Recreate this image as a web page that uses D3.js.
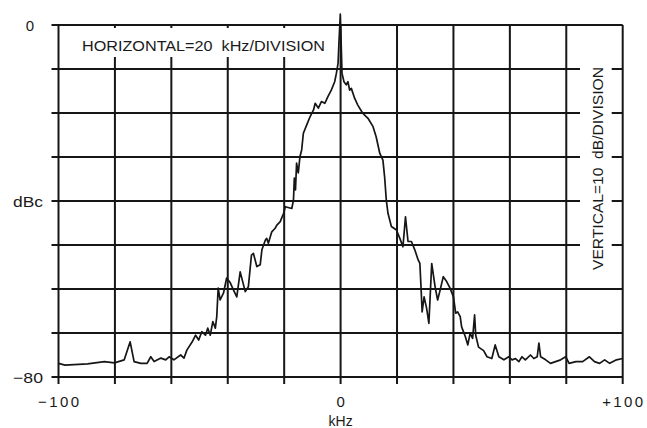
<!DOCTYPE html>
<html>
<head>
<meta charset="utf-8">
<script src="https://cdn.jsdelivr.net/npm/d3@7"></script>
<style>
  html, body { margin:0; padding:0; background:#fff; }
  svg { display:block; }
  text { font-family:"Liberation Sans", Arial, sans-serif; fill:#1a1a1a; white-space:pre; }
</style>
</head>
<body>
<div id="chart"></div>
<script>
// spectrum trace: frequency offset (kHz) and level (dBc)
const freqKHz = [
  -100,-97.7,-89.7,-83.7,-80.2,-76.7,-74.6,-73.2,-70.8,-68.6,
  -67.3,-66.1,-63.7,-62.0,-60.8,-59.1,-56.7,-55.5,-54.5,-52.6,
  -51.4,-50.3,-49.2,-47.9,-47.1,-46.2,-45.3,-44.4,-43.9,-43.4,
  -42.7,-41.5,-40.4,-39.1,-38.0,-36.8,-35.6,-33.8,-32.7,-31.6,
  -30.9,-29.7,-28.5,-27.9,-26.7,-26.2,-25.6,-24.4,-23.2,-22.6,
  -21.4,-20.9,-20.2,-19.6,-17.3,-16.7,-16.4,-16.0,-15.6,-15.0,
  -14.4,-13.8,-13.2,-12.0,-10.8,-9.6,-9.0,-7.9,-6.8,-5.6,
  -4.5,-3.3,-2.1,-1.5,-0.9,-0.6,-0.1,0.2,0.5,1.2,
  2.0,2.6,3.2,3.8,5.0,6.1,7.9,9.7,11.5,12.6,
  13.9,15.0,15.6,16.2,16.8,18.0,19.8,21.0,22.1,23.0,
  23.9,25.1,26.3,27.5,28.1,28.5,28.9,29.6,30.5,31.3,
  32.3,33.5,34.4,35.3,36.4,37.6,38.8,40.0,40.8,41.5,
  42.4,42.9,44.2,45.1,45.9,46.8,47.5,47.9,48.9,50.7,
  51.9,53.6,54.8,56.1,57.9,59.6,60.8,62.0,63.2,64.3,
  65.5,67.3,68.5,69.7,70.3,70.9,72.7,74.4,76.2,78.0,
  79.8,81.0,83.4,85.8,88.2,90.0,91.8,93.6,95.4,97.8,
  100
];
const levelDbc = [
  -76.9,-77.3,-77.0,-76.5,-76.8,-76.1,-72.0,-76.5,-76.9,-76.9,
  -75.4,-76.5,-75.7,-76.1,-75.4,-76.1,-75.0,-75.7,-73.9,-72.0,
  -70.5,-71.6,-69.7,-70.5,-68.9,-70.5,-67.4,-68.9,-66.3,-59.8,
  -62.5,-60.9,-57.5,-58.6,-60.2,-61.8,-56.1,-60.6,-59.5,-52.3,
  -51.9,-54.9,-54.5,-51.1,-48.9,-48.5,-49.6,-47.0,-46.2,-45.5,
  -44.7,-43.9,-42.8,-41.3,-41.7,-39.8,-34.8,-37.5,-31.4,-33.6,
  -29.9,-28.4,-24.6,-22.7,-20.8,-19.3,-17.8,-18.9,-17.4,-17.8,
  -16.3,-14.8,-12.9,-11.0,-8.7,-4.2,2.5,-4.2,-11.0,-12.9,
  -13.6,-12.9,-14.8,-14.4,-16.7,-18.2,-20.1,-21.2,-23.1,-25.4,
  -29.2,-30.7,-34.5,-39.8,-42.8,-45.8,-46.6,-48.5,-50.4,-43.6,
  -49.2,-49.2,-51.1,-53.4,-54.2,-59.5,-65.2,-61.8,-64.4,-67.8,
  -54.2,-59.5,-62.5,-60.2,-57.2,-58.3,-59.8,-61.8,-65.5,-65.2,
  -66.3,-68.6,-70.8,-72.7,-70.1,-71.2,-65.9,-70.5,-73.2,-74.0,
  -75.4,-75.8,-72.7,-75.4,-76.1,-75.4,-76.1,-75.8,-76.5,-75.4,
  -76.1,-75.0,-75.8,-75.4,-72.3,-75.4,-76.1,-76.9,-76.5,-76.1,
  -75.4,-76.9,-76.5,-76.5,-75.4,-76.5,-76.9,-76.1,-76.9,-76.1,
  -75.8
];

const xTicks = [-100,-80,-60,-40,-20,0,20,40,60,80,100];
const yTicks = [0,-10,-20,-30,-40,-50,-60,-70,-80];
const xTickLabels = [ {v:-100, t:"\u2212100"}, {v:0, t:"0"}, {v:100, t:"+100"} ];
const yTickLabels = [ {v:0, t:"0"}, {v:-40, t:"dBc"}, {v:-80, t:"\u221280"} ];
const xTitle = "kHz";
const topNote  = "HORIZONTAL=20  kHz/DIVISION";
const sideNote = "VERTICAL=10  dB/DIVISION";

const W = 647, H = 428;
const INK = "#161616";

const svg = d3.select("#chart").append("svg")
  .attr("width", W).attr("height", H);

const x = d3.scaleLinear().domain([-100, 100]).range([58.5, 622.7]);
const y = d3.scaleLinear().domain([-80, 0]).range([377, 25]);

const plotL = x(-100), plotR = x(100), plotT = y(0), plotB = y(-80);

// gaps in the grid where the two notes sit
const noteGapY = [28, 57];          // vertical lines broken behind top note
const sideGapX = [580, 611.7];      // horizontal lines broken behind side note

const grid = svg.append("g")
  .attr("stroke", INK)
  .attr("stroke-width", 2)
  .attr("fill", "none");

// horizontal grid lines, sticking out a bit past the left edge
yTicks.forEach(v => {
  const yy = y(v);
  const broken = v <= -10 && v >= -50;
  if (broken) {
    grid.append("line").attr("x1", plotL - 7).attr("x2", sideGapX[0]).attr("y1", yy).attr("y2", yy);
    grid.append("line").attr("x1", sideGapX[1]).attr("x2", plotR).attr("y1", yy).attr("y2", yy);
  } else {
    grid.append("line").attr("x1", plotL - 7).attr("x2", plotR).attr("y1", yy).attr("y2", yy);
  }
});

// vertical grid lines, with a tick below the bottom edge
xTicks.forEach(v => {
  const xx = x(v);
  const broken = v > -100 && v < 0;
  if (broken) {
    grid.append("line").attr("x1", xx).attr("x2", xx).attr("y1", plotT).attr("y2", noteGapY[0]);
    grid.append("line").attr("x1", xx).attr("x2", xx).attr("y1", noteGapY[1]).attr("y2", plotB + 7);
  } else {
    grid.append("line").attr("x1", xx).attr("x2", xx).attr("y1", plotT).attr("y2", plotB + 7);
  }
});

// trace
const pts = freqKHz.map((f, i) => [f, levelDbc[i]]);
const line = d3.line().x(d => x(d[0])).y(d => y(d[1]));
svg.append("path")
  .datum(pts)
  .attr("d", line)
  .attr("fill", "none")
  .attr("stroke", INK)
  .attr("stroke-width", 1.7)
  .attr("stroke-linejoin", "round");

// axis labels
svg.selectAll("text.xl")
  .data(xTickLabels)
  .enter().append("text")
  .attr("class", "xl")
  .attr("x", d => x(d.v))
  .attr("y", 407)
  .attr("text-anchor", "middle")
  .style("font-size", "15px")
  .attr("textLength", d => d.t.length > 1 ? 41 : null)
  .text(d => d.t);

svg.selectAll("text.yl")
  .data(yTickLabels)
  .enter().append("text")
  .attr("class", "yl")
  .attr("x", d => d.v === 0 ? 34 : 43)
  .attr("y", d => y(d.v) + 6)
  .attr("text-anchor", "end")
  .style("font-size", "15px")
  .attr("textLength", d => d.t.length > 1 ? 30 : null)
  .attr("lengthAdjust", "spacingAndGlyphs")
  .text(d => d.t);

svg.append("text")
  .attr("x", x(0))
  .attr("y", 426)
  .attr("text-anchor", "middle")
  .style("font-size", "14px")
  .text(xTitle);

svg.append("text")
  .attr("x", 82)
  .attr("y", 51)
  .attr("xml:space", "preserve")
  .style("font-size", "15.5px")
  .attr("textLength", 243)
  .attr("lengthAdjust", "spacingAndGlyphs")
  .text(topNote);

svg.append("text")
  .attr("transform", `translate(603,${(67 + 270) / 2}) rotate(-90)`)
  .attr("text-anchor", "middle")
  .attr("xml:space", "preserve")
  .style("font-size", "15px")
  .attr("textLength", 203)
  .attr("lengthAdjust", "spacingAndGlyphs")
  .text(sideNote);
</script>
</body>
</html>
